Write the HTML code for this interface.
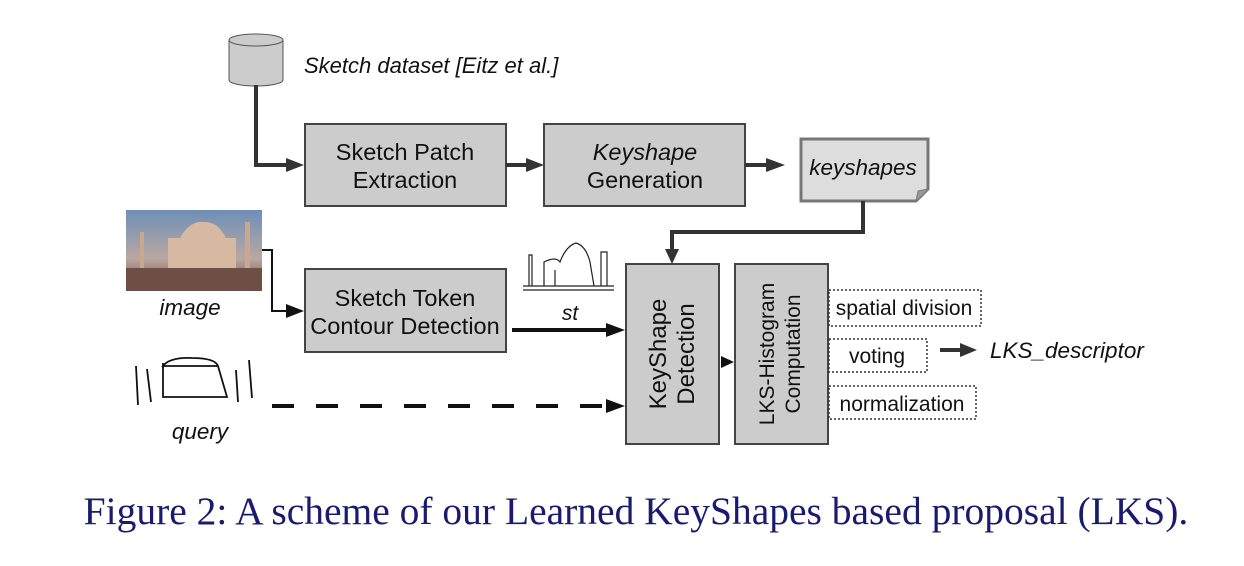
<!DOCTYPE html>
<html><head><style>
body{margin:0;background:#fff;}
svg text{font-family:"Liberation Sans",sans-serif;}
</style></head><body>
<svg width="1244" height="561" viewBox="0 0 1244 561" xmlns="http://www.w3.org/2000/svg">
<!-- cylinder -->
<path d="M229,40 L229,80 A27,6 0 0 0 283,80 L283,40" fill="#ccc" stroke="#555" stroke-width="1"/>
<ellipse cx="256" cy="40" rx="27" ry="6" fill="#ccc" stroke="#555"/>
<text x="304" y="73" font-size="22" font-style="italic" fill="#111">Sketch dataset [Eitz et al.]</text>
<polyline points="256,85 256,165 288,165" fill="none" stroke="#333" stroke-width="4"/>
<path d="M286,158 L304,165 L286,172z" fill="#333"/>
<rect x="305" y="124" width="201" height="82" fill="#ccc" stroke="#444" stroke-width="2"/>
<text x="405" y="160" font-size="23.5" text-anchor="middle" fill="#111">Sketch Patch</text>
<text x="405" y="188" font-size="23.5" text-anchor="middle" fill="#111">Extraction</text>
<line x1="506" y1="165" x2="528" y2="165" stroke="#333" stroke-width="4"/>
<path d="M526,158 L544,165 L526,172z" fill="#333"/>
<rect x="544" y="124" width="201" height="82" fill="#ccc" stroke="#444" stroke-width="2"/>
<text x="645" y="160" font-size="23.5" text-anchor="middle" font-style="italic" fill="#111">Keyshape</text>
<text x="645" y="188" font-size="23.5" text-anchor="middle" fill="#111">Generation</text>
<line x1="745" y1="165" x2="768" y2="165" stroke="#333" stroke-width="4"/>
<path d="M766,158 L785,165 L766,172z" fill="#333"/>
<path d="M801,139 L928,139 L928,189 L916,201 L801,201z" fill="#ddd" stroke="#777" stroke-width="3"/>
<path d="M916,201 L918,191 L928,189" fill="#999" stroke="#777" stroke-width="1"/>
<text x="863" y="175" font-size="22.5" text-anchor="middle" font-style="italic" fill="#111">keyshapes</text>
<polyline points="863,201 863,232 672,232 672,252" fill="none" stroke="#333" stroke-width="4"/>
<path d="M665,249 L672,264 L679,249z" fill="#333"/>
<defs><linearGradient id="sky" x1="0" y1="0" x2="0" y2="1"><stop offset="0" stop-color="#6e8fb8"/><stop offset="0.6" stop-color="#b9a8a0"/><stop offset="1" stop-color="#6a4c40"/></linearGradient></defs>
<rect x="126" y="210" width="136" height="81" fill="url(#sky)"/>
<rect x="126" y="268" width="136" height="23" fill="#6d4f45"/>
<path d="M168,268 L168,238 L180,238 Q190,220 205,222 Q218,222 226,238 L236,238 L236,268z" fill="#d7b8a0"/>
<rect x="140" y="232" width="4" height="36" fill="#c9a890"/>
<rect x="245" y="222" width="5" height="46" fill="#c9a890"/>
<text x="190" y="315" font-size="22.5" text-anchor="middle" font-style="italic" fill="#111">image</text>
<polyline points="262,250 272,250 272,311 288,311" fill="none" stroke="#111" stroke-width="2"/>
<path d="M286,304 L304,311 L286,318z" fill="#111"/>
<rect x="305" y="269" width="201" height="83" fill="#ccc" stroke="#444" stroke-width="2"/>
<text x="405" y="306" font-size="23.5" text-anchor="middle" fill="#111">Sketch Token</text>
<text x="405" y="334" font-size="23.5" text-anchor="middle" fill="#111">Contour Detection</text>
<g fill="none" stroke="#222" stroke-width="1.2">
<path d="M523,290 L614,290 M523,286 L614,286 M529,286 L529,255 L532,255 L532,286 M544,286 L544,262 Q556,256 560,262 Q566,246 576,243 Q586,246 590,262 L594,286 M601,286 L601,252 L607,252 L607,286 M555,286 L555,270"/>
</g>
<text x="570" y="320" font-size="21" text-anchor="middle" font-style="italic" fill="#111">st</text>
<line x1="512" y1="330" x2="608" y2="330" stroke="#111" stroke-width="4"/>
<path d="M606,323 L625,330 L606,337z" fill="#111"/>
<g fill="none" stroke="#111" stroke-width="1.8">
<path d="M136,366 L138,405 M147,369 L151,402 M163,363 L163,397 L227,397 L218,366 L163,366 Q170,357 192,358 Q215,358 218,366 M236,370 L238,402 M249,360 L252,398"/>
</g>
<text x="200" y="439" font-size="22.5" text-anchor="middle" font-style="italic" fill="#111">query</text>
<line x1="272" y1="406" x2="608" y2="406" stroke="#111" stroke-width="4" stroke-dasharray="22,22"/>
<path d="M606,399 L625,406 L606,413z" fill="#111"/>
<rect x="626" y="264" width="93" height="180" fill="#ccc" stroke="#444" stroke-width="2"/>
<text transform="translate(666,354) rotate(-90)" font-size="24" text-anchor="middle" fill="#111">KeyShape</text>
<text transform="translate(694,354) rotate(-90)" font-size="24" text-anchor="middle" fill="#111">Detection</text>
<path d="M721,356 L734,362 L721,368z" fill="#111"/>
<rect x="735" y="264" width="93" height="180" fill="#ccc" stroke="#444" stroke-width="2"/>
<text transform="translate(774,354) rotate(-90)" font-size="21" text-anchor="middle" fill="#111">LKS-Histogram</text>
<text transform="translate(800,354) rotate(-90)" font-size="21" text-anchor="middle" fill="#111">Computation</text>
<g fill="#fff" stroke="#333" stroke-width="1.5" stroke-dasharray="2,2">
<rect x="829" y="290" width="152" height="36"/>
<rect x="829" y="339" width="98" height="33"/>
<rect x="829" y="386" width="147" height="33"/>
</g>
<text x="904" y="315" font-size="21" text-anchor="middle" fill="#111">spatial division</text>
<text x="877" y="363" font-size="21" text-anchor="middle" fill="#111">voting</text>
<text x="902" y="411" font-size="21" text-anchor="middle" fill="#111">normalization</text>
<line x1="940" y1="350" x2="962" y2="350" stroke="#333" stroke-width="4"/>
<path d="M960,343 L977,350 L960,357z" fill="#333"/>
<text x="990" y="358" font-size="22.5" font-style="italic" fill="#111">LKS_descriptor</text>
<text x="636" y="524" font-size="39.5" text-anchor="middle" fill="#1a1a6e" style="font-family:'Liberation Serif',serif">Figure 2: A scheme of our Learned KeyShapes based proposal (LKS).</text>
</svg>
</body></html>
